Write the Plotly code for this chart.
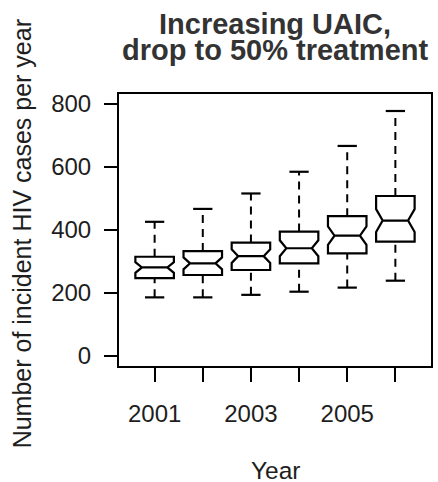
import plotly.graph_objects as go

# Simulated incident HIV cases per year (box summary statistics)
years = [2001, 2002, 2003, 2004, 2005, 2006]
lower_whisker = [186, 186, 194, 204, 217, 239]
q1 = [247, 257, 273, 294, 326, 363]
median = [281, 294, 317, 342, 382, 430]
q3 = [315, 333, 360, 395, 444, 508]
upper_whisker = [426, 467, 516, 585, 667, 778]
n_runs = 40  # simulation runs per year, used for notch size

year_labels = ["2001", "", "2003", "", "2005", ""]
y_ticks = [0, 200, 400, 600, 800]

TXT = "#1e1e1e"
FONT = "Liberation Sans, Arial, Helvetica, sans-serif"

# R-style notch half-width: 1.58 * IQR / sqrt(n)
notch = [1.58 * (b - a) / n_runs ** 0.5 for a, b in zip(q1, q3)]

fig = go.Figure()

# dashed whiskers
for x, lo, a, b, hi in zip(years, lower_whisker, q1, q3, upper_whisker):
    for y0, y1 in ((lo, a), (b, hi)):
        fig.add_trace(go.Scatter(
            x=[x, x], y=[y0, y1], mode="lines",
            line=dict(color="black", width=2, dash="8px,6px"),
            hoverinfo="skip", showlegend=False))
    # whisker caps (half the box width)
    for y in (lo, hi):
        fig.add_trace(go.Scatter(
            x=[x - 0.2, x + 0.2], y=[y, y], mode="lines",
            line=dict(color="black", width=2.2),
            hoverinfo="skip", showlegend=False))

# notched boxes
fig.add_trace(go.Box(
    x=years, q1=q1, median=median, q3=q3,
    lowerfence=q1, upperfence=q3,
    notched=True, notchspan=notch, notchwidth=0.17,
    width=0.8, whiskerwidth=0,
    fillcolor="white", line=dict(color="black", width=2.2),
    boxpoints=False, showlegend=False))

fig.update_layout(
    width=438, height=482,
    margin=dict(l=119, r=5, t=94, b=116),
    paper_bgcolor="white", plot_bgcolor="white",
    font=dict(family=FONT, color=TXT),
    showlegend=False,
    xaxis=dict(
        range=[2000.26, 2006.74], tickmode="array",
        tickvals=years, ticktext=year_labels,
        ticks="outside", ticklen=14, tickwidth=2, tickcolor="black",
        ticklabelstandoff=11,
        tickfont=dict(size=24, color=TXT),
        showline=True, linecolor="black", linewidth=2, mirror=True,
        showgrid=False, zeroline=False),
    yaxis=dict(
        range=[-32, 832], tickmode="array", tickvals=y_ticks,
        ticks="outside", ticklen=13, tickwidth=2, tickcolor="black",
        ticklabelstandoff=8,
        tickfont=dict(size=24, color=TXT),
        showline=True, linecolor="black", linewidth=2, mirror=True,
        showgrid=False, zeroline=False),
    annotations=[
        dict(text="<b>Increasing UAIC,</b>", xref="paper", yref="paper",
             x=0.5, y=1.258, xanchor="center", yanchor="middle",
             showarrow=False, font=dict(size=29, color="#333333")),
        dict(text="<b>drop to 50% treatment</b>", xref="paper", yref="paper",
             x=0.5, y=1.162, xanchor="center", yanchor="middle",
             showarrow=False, font=dict(size=29, color="#333333")),
        dict(text="Number of incident HIV cases per year", xref="paper",
             yref="paper", x=-0.31, y=0.485, textangle=-90,
             xanchor="center", yanchor="middle", showarrow=False,
             font=dict(size=25, color=TXT)),
        dict(text="Year", xref="paper", yref="paper",
             x=0.504, y=-0.385, xanchor="center", yanchor="middle",
             showarrow=False, font=dict(size=24.5, color=TXT)),
    ],
)

fig.write_html("out.html")
